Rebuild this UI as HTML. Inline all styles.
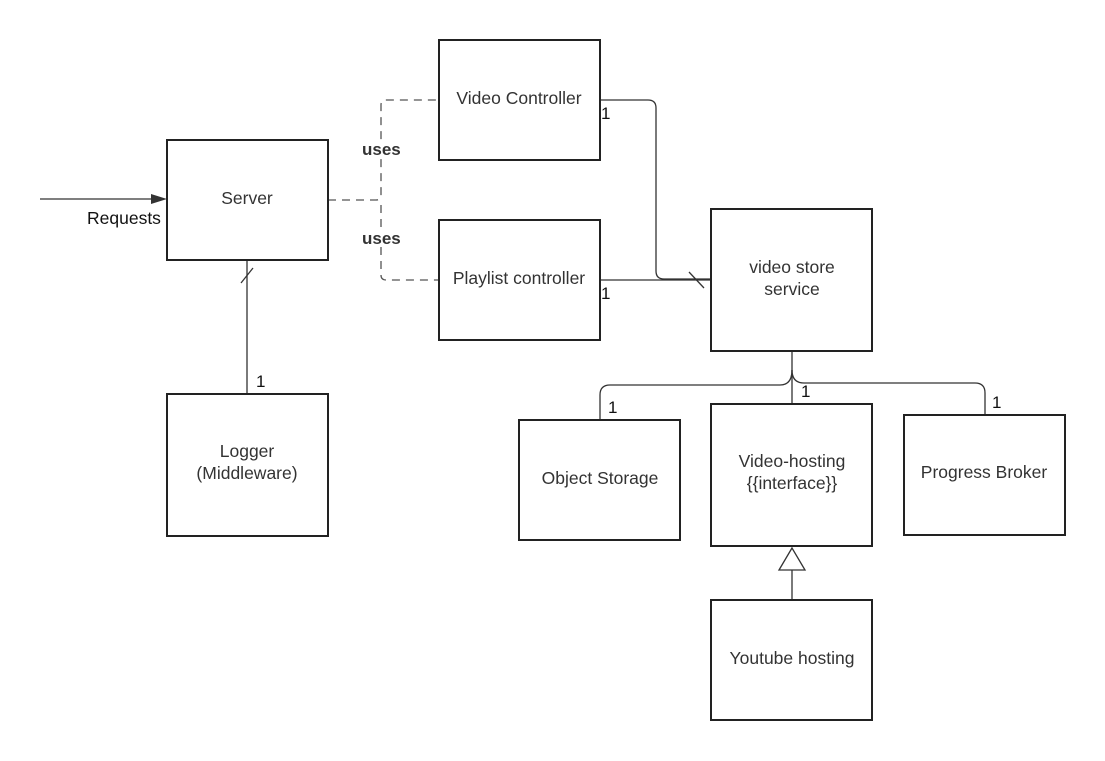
<!DOCTYPE html>
<html><head><style>
html,body{margin:0;padding:0;background:#fff;}
svg{display:block;font-family:"Liberation Sans",Arial,sans-serif;}
.b{fill:#fff;stroke:#222;stroke-width:2;}
.t{font-size:17.5px;fill:#333;text-anchor:middle;}
.l{fill:none;stroke:#333;stroke-width:1.3;}
.d{fill:none;stroke:#555;stroke-width:1.3;stroke-dasharray:8,6;}
.n{font-size:17px;fill:#111;}
</style></head><body>
<svg width="1105" height="761" viewBox="0 0 1105 761">
<line class="l" x1="40" y1="199" x2="155" y2="199"/>
<polygon points="167,199 151,194 151,204" fill="#333"/>
<path class="d" d="M328 200 H376 Q381 200 381 195 V105 Q381 100 386 100 H439"/>
<path class="d" d="M381 205 V275 Q381 280 386 280 H439"/>
<path class="l" d="M600 100 H648 Q656 100 656 108 V271 Q656 279 664 279 H711"/>
<line class="l" x1="600" y1="280" x2="711" y2="280"/>
<line class="l" x1="689" y1="272" x2="704" y2="288"/>
<line class="l" x1="247" y1="260" x2="247" y2="394"/>
<line class="l" x1="241" y1="283" x2="253" y2="268"/>
<path class="l" d="M792 351 V404"/>
<path class="l" d="M792 370 Q792 385 780 385 H610 Q600 385 600 395 V420"/>
<path class="l" d="M792 370 Q792 383 804 383 H975 Q985 383 985 393 V415"/>
<line class="l" x1="792" y1="570" x2="792" y2="600"/>
<polygon points="792,548 779,570 805,570" fill="#fff" stroke="#333" stroke-width="1.3"/>
<rect class="b" x="167" y="140" width="161" height="120"/>
<rect class="b" x="439" y="40" width="161" height="120"/>
<rect class="b" x="439" y="220" width="161" height="120"/>
<rect class="b" x="711" y="209" width="161" height="142"/>
<rect class="b" x="167" y="394" width="161" height="142"/>
<rect class="b" x="519" y="420" width="161" height="120"/>
<rect class="b" x="711" y="404" width="161" height="142"/>
<rect class="b" x="904" y="415" width="161" height="120"/>
<rect class="b" x="711" y="600" width="161" height="120"/>
<text class="t" x="247" y="204">Server</text>
<text class="t" x="519" y="104">Video Controller</text>
<text class="t" x="519" y="284">Playlist controller</text>
<text class="t" x="792" y="273">video store</text>
<text class="t" x="792" y="295">service</text>
<text class="t" x="247" y="457">Logger</text>
<text class="t" x="247" y="479">(Middleware)</text>
<text class="t" x="600" y="484">Object Storage</text>
<text class="t" x="792" y="467">Video-hosting</text>
<text class="t" x="792" y="489">{{interface}}</text>
<text class="t" x="984" y="478">Progress Broker</text>
<text class="t" x="792" y="664">Youtube hosting</text>
<text x="87" y="224" style="font-size:17.5px;fill:#111">Requests</text>
<rect x="361" y="140" width="42" height="18" fill="#fff"/>
<rect x="361" y="229" width="42" height="18" fill="#fff"/>
<text x="362" y="155" style="font-size:17px;font-weight:bold;fill:#333">uses</text>
<text x="362" y="244" style="font-size:17px;font-weight:bold;fill:#333">uses</text>
<text class="n" x="601" y="119">1</text>
<text class="n" x="601" y="299">1</text>
<text class="n" x="256" y="387">1</text>
<text class="n" x="608" y="413">1</text>
<text class="n" x="801" y="397">1</text>
<text class="n" x="992" y="408">1</text>
</svg>
</body></html>
